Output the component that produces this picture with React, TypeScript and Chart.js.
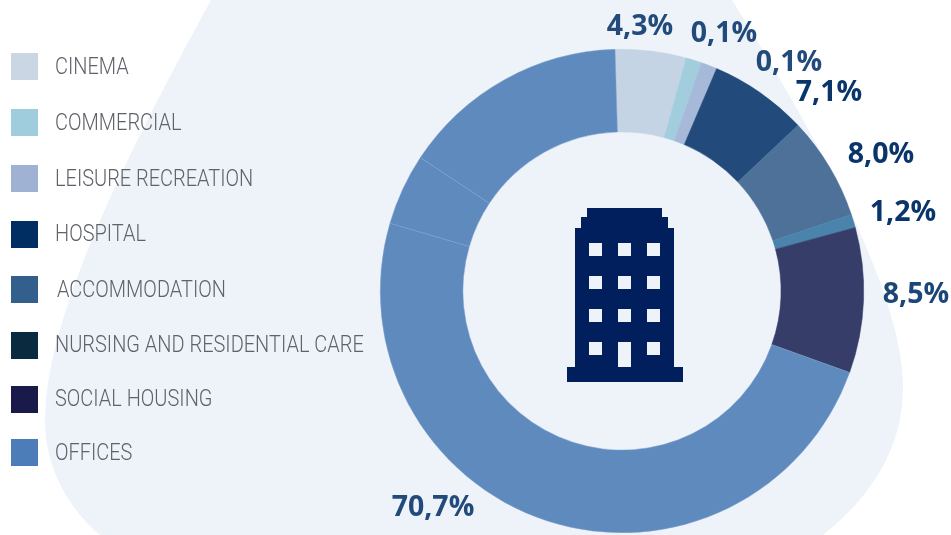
import React, { useEffect, useRef } from "react";
import { Chart, registerables } from "chart.js";

Chart.register(...registerables);

// Slices as drawn (share of the ring)
const sliceNames = [
  "CINEMA", "COMMERCIAL", "LEISURE RECREATION", "HOSPITAL", "ACCOMMODATION",
  "NURSING AND RESIDENTIAL CARE", "SOCIAL HOUSING", "OFFICES", "OFFICES", "OFFICES",
];
const sliceShares = [4.74, 1.06, 1.06, 6.58, 6.89, 0.9, 9.7, 49.05, 4.78, 15.24];
const sliceColors = [
  "#C4D4E4", "#A2CDDD", "#A6B9D9", "#224B7C", "#4D7199",
  "#4A83AB", "#373D69", "#5F8ABD", "#5F8ABD", "#5F8ABD",
];
const sliceBorders = [
  "#C4D4E4", "#A2CDDD", "#A6B9D9", "#224B7C", "#4D7199",
  "#4A83AB", "#373D69", "#7FA2CC", "#7FA2CC", "#7FA2CC",
];

// Printed percentage labels
const valueLabels = ["4,3%", "0,1%", "0,1%", "7,1%", "8,0%", "1,2%", "8,5%", "70,7%"];
const valueLabelColors = ["#224B7C", "#224B7C", "#224B7C", "#0A356B", "#0A356B", "#0A356B", "#1C4678", "#224B7C"];
const valueLabelX = [640, 724, 789, 829, 881, 903, 916, 433];
const valueLabelY = [26.5, 33.5, 63, 92.5, 154.5, 212.5, 294.5, 507.5];

// Legend
const legendNames = [
  "CINEMA", "COMMERCIAL", "LEISURE RECREATION", "HOSPITAL", "ACCOMMODATION",
  "NURSING AND RESIDENTIAL CARE", "SOCIAL HOUSING", "OFFICES",
];
const legendColors = ["#CAD6E3", "#9FCDDD", "#A0B2D4", "#002E62", "#335F8C", "#0A2A3F", "#1A1A4A", "#4D7DB8"];
const legendBoxY = [53, 109, 165, 221, 276, 332, 386, 439];
const legendTextX = [55, 55, 55, 55, 57, 55, 55, 55];
const legendTextY = [68, 124, 180, 235, 291, 346, 400, 454];
const legendTextScale = 0.868;

const BLOB = "#EEF3FA";
const ICON = "#001F5C";

const decorations = {
  id: "decorations",
  beforeDraw(chart: any) {
    const c = chart.ctx;
    c.save();
    c.fillStyle = BLOB;
    c.beginPath();
    c.moveTo(211, 0);
    c.bezierCurveTo(140, 130, 45, 310, 45, 420);
    c.bezierCurveTo(45, 470, 70, 510, 100, 535);
    c.lineTo(823, 535);
    c.bezierCurveTo(870, 497, 903, 450, 903, 387);
    c.bezierCurveTo(903, 290, 810, 125, 732, 0);
    c.closePath();
    c.fill();
    c.restore();
  },
  afterDraw(chart: any) {
    const c = chart.ctx;
    c.save();
    // building icon
    c.fillStyle = ICON;
    c.fillRect(587, 208, 75, 9);
    c.fillRect(581, 217, 87, 12);
    c.fillRect(575, 228, 99, 140);
    c.fillRect(567, 367, 116, 15);
    c.fillStyle = BLOB;
    for (const x of [589, 618, 647]) {
      for (const y of [243, 276, 309, 342]) {
        const h = x === 618 && y === 342 ? 25 : 13;
        c.fillRect(x, y, 13, h);
      }
    }
    // percentage labels
    c.font = '700 28.5px "Open Sans"';
    c.textAlign = "center";
    c.textBaseline = "middle";
    valueLabels.forEach((t, i) => {
      c.fillStyle = valueLabelColors[i];
      c.fillText(t, valueLabelX[i], valueLabelY[i]);
    });
    // legend
    c.textAlign = "left";
    c.font = '300 23px Roboto';
    legendNames.forEach((t, i) => {
      c.fillStyle = legendColors[i];
      c.fillRect(11, legendBoxY[i], 27, 27);
      c.fillStyle = "#5F6269";
      c.save();
      c.translate(legendTextX[i], legendTextY[i]);
      c.scale(legendTextScale, 1);
      c.fillText(t, 0, 0);
      c.restore();
    });
    c.restore();
  },
};

export default function App() {
  const ref = useRef<HTMLCanvasElement>(null);
  useEffect(() => {
    document.body.style.margin = "0";
    const chart = new Chart(ref.current!, {
      type: "doughnut",
      data: {
        labels: sliceNames,
        datasets: [{
          data: sliceShares,
          backgroundColor: sliceColors,
          borderColor: sliceBorders,
          borderWidth: 0.5,
        }],
      },
      options: {
        responsive: false,
        animation: false,
        rotation: -1.65,
        cutout: "65.8%",
        layout: { padding: { left: 380, right: 87, top: 49, bottom: 2 } },
        plugins: { legend: { display: false }, tooltip: { enabled: false } },
      },
      plugins: [decorations],
    });
    return () => chart.destroy();
  }, []);
  return (
    <div style={{ position: "absolute", left: 0, top: 0, width: 951, height: 535 }}>
      <canvas ref={ref} width={951} height={535} style={{ display: "block" }} />
    </div>
  );
}
